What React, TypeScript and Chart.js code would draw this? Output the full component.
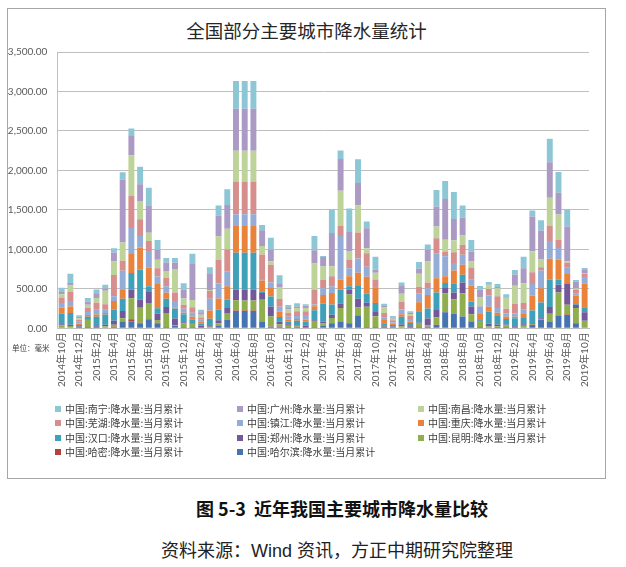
import React, { useEffect, useRef } from "react";
import { Chart, registerables } from "chart.js";

Chart.register(...registerables);

const months = [
  "2014年10月", "2014年11月", "2014年12月",
  "2015年1月", "2015年2月", "2015年3月", "2015年4月", "2015年5月", "2015年6月",
  "2015年7月", "2015年8月", "2015年9月", "2015年10月", "2015年11月", "2015年12月",
  "2016年1月", "2016年2月", "2016年3月", "2016年4月", "2016年5月", "2016年6月",
  "2016年7月", "2016年8月", "2016年9月", "2016年10月", "2016年11月", "2016年12月",
  "2017年1月", "2017年2月", "2017年3月", "2017年4月", "2017年5月", "2017年6月",
  "2017年7月", "2017年8月", "2017年9月", "2017年10月", "2017年11月", "2017年12月",
  "2018年1月", "2018年2月", "2018年3月", "2018年4月", "2018年5月", "2018年6月",
  "2018年7月", "2018年8月", "2018年9月", "2018年10月", "2018年11月", "2018年12月",
  "2019年1月", "2019年2月", "2019年3月", "2019年4月", "2019年5月", "2019年6月",
  "2019年7月", "2019年8月", "2019年9月", "2019年10月",
];

const yTicks = [0, 500, 1000, 1500, 2000, 2500, 3000, 3500];

// bottom-to-top stacking order
const harbin = [10,8,5,5,5,8,15,85,85,64,115,64,5,30,5,5,5,8,30,106,220,220,220,85,20,20,15,5,5,5,30,64,85,64,160,15,3,3,3,10,5,5,20,42,203,182,148,85,5,10,5,5,5,10,42,106,85,161,170,64,10];
const hami = [3,2,2,2,2,2,5,5,30,5,3,5,2,2,2,2,2,2,5,3,5,5,5,3,2,2,2,2,2,2,2,3,3,3,5,3,1,1,1,2,2,2,2,3,5,3,3,3,1,2,2,2,2,2,2,2,3,3,5,3,2];
const kunming = [25,20,10,100,10,15,25,38,267,190,203,35,188,8,55,50,10,10,28,85,127,127,127,275,127,30,15,15,10,85,30,64,170,360,100,255,148,15,8,15,10,60,18,94,237,184,294,90,85,10,20,30,10,20,10,10,97,290,122,190,85];
const zhengzhou = [12,15,5,10,8,20,50,90,106,106,148,85,76,85,15,10,15,20,40,64,140,140,140,85,127,30,20,15,15,10,20,42,55,64,110,50,64,15,10,20,10,5,85,93,64,85,136,97,5,40,20,10,10,20,10,10,85,97,267,40,106];
const hankou = [135,150,20,30,120,130,140,157,212,381,64,64,102,127,100,40,25,80,135,106,466,466,466,20,127,60,30,60,50,127,233,127,178,42,160,118,106,30,20,100,40,145,127,220,64,118,97,64,10,148,110,70,100,80,160,200,347,64,10,10,64];
const chongqing = [75,80,15,20,30,20,110,120,242,275,233,318,76,10,20,40,25,106,140,170,339,339,339,136,106,70,25,20,25,51,106,148,127,127,170,212,190,40,15,30,20,112,170,182,85,161,127,199,85,64,40,30,20,50,190,178,263,254,115,106,297];
const zhenjiang = [60,70,25,40,60,40,60,233,330,148,212,85,85,85,50,50,25,148,190,190,148,148,148,20,72,60,40,40,60,20,85,85,551,100,180,127,10,30,20,60,30,115,85,318,254,93,127,76,85,140,60,40,40,60,148,225,225,148,85,30,85];
const wuhu = [70,120,25,50,90,70,270,127,403,212,127,106,106,106,50,70,30,100,297,275,415,415,415,312,225,100,50,60,50,190,106,127,127,110,330,170,96,60,25,100,40,82,72,190,60,136,127,157,10,85,150,60,120,80,148,42,190,106,55,50,40];
const nanchang = [40,80,20,40,60,170,170,233,517,233,106,106,85,297,80,90,35,12,297,263,390,390,390,106,42,150,40,40,40,330,170,127,445,110,345,63,85,70,20,100,25,165,267,148,150,153,115,76,104,42,100,140,233,250,265,106,360,318,20,10,10];
const guangzhou = [40,30,18,40,60,30,115,795,254,212,339,127,106,85,110,466,30,212,263,301,530,530,530,199,148,48,30,20,28,170,120,420,405,250,280,255,42,20,14,100,14,64,148,254,517,271,225,127,97,10,15,10,140,190,442,360,450,275,440,90,40];
const nanning = [45,115,20,48,45,48,55,93,85,222,230,123,60,55,84,120,34,76,131,199,352,352,352,68,150,102,29,40,20,178,15,297,106,288,300,85,161,28,20,42,20,85,68,208,226,340,157,144,50,37,40,34,60,143,76,131,297,265,221,20,26];

const seriesNames = ["哈尔滨", "哈密", "昆明", "郑州", "汉口", "重庆", "镇江", "芜湖", "南昌", "广州", "南宁"];
const seriesValues = [harbin, hami, kunming, zhengzhou, hankou, chongqing, zhenjiang, wuhu, nanchang, guangzhou, nanning];
const seriesColors = ["#4674B0", "#B5413F", "#8FAF4F", "#73599A", "#3FA0BA", "#E9823A", "#93ACD8", "#D68F8D", "#BDD39A", "#AB9AC4", "#8DC7D6"];

const labelOf = (name: string) => `中国:${name}:降水量:当月累计`;

const legendColX = [55, 237, 418];
const legendRowY = [409, 423, 438, 452];

export default function App() {
  const ref = useRef<HTMLCanvasElement | null>(null);

  useEffect(() => {
    if (!ref.current) return;
    const chart = new Chart(ref.current, {
      type: "bar",
      data: {
        labels: months,
        datasets: seriesNames.map((n, i) => ({
          label: labelOf(n),
          data: seriesValues[i],
          backgroundColor: seriesColors[i],
          borderWidth: 0,
          categoryPercentage: 1,
          barPercentage: 0.68,
        })),
      },
      options: {
        animation: false,
        responsive: false,
        maintainAspectRatio: false,
        layout: { padding: { left: 0, right: 15, top: 43, bottom: 0 } },
        plugins: {
          legend: { display: false },
          title: { display: false },
          tooltip: { enabled: false },
        },
        scales: {
          x: {
            stacked: true,
            grid: { display: false, drawTicks: false },
            border: { display: true, color: "#bfbfbf" },
            ticks: {
              autoSkip: false,
              maxRotation: 90,
              minRotation: 90,
              padding: 4,
              color: "#595959",
              font: { family: "Lato, 'Noto Sans CJK SC', sans-serif", size: 10 },
              callback: (_v: any, i: number) => (i % 2 === 0 ? months[i] : ""),
            },
            afterFit: (s: any) => {
              s.height = 80.7;
            },
          },
          y: {
            stacked: true,
            min: 0,
            max: 3500,
            afterBuildTicks: (s: any) => {
              s.ticks = yTicks.map((v) => ({ value: v }));
            },
            ticks: {
              padding: 10,
              color: "#595959",
              font: { family: "Lato, 'Noto Sans CJK SC', sans-serif", size: 10 },
              callback: (v: any) =>
                Number(v).toLocaleString("en-US", { minimumFractionDigits: 2, maximumFractionDigits: 2 }),
            },
            grid: { color: "#bfbfbf", drawTicks: false },
            border: { display: true, color: "#bfbfbf" },
            afterFit: (s: any) => {
              s.width = 49.3;
            },
          },
        },
      },
    });
    return () => chart.destroy();
  }, []);

  const legendOrder = seriesNames.map((_, i) => i).reverse();

  return (
    <div
      style={{
        position: "absolute",
        left: 0,
        top: 0,
        width: 626,
        height: 567,
        background: "#fff",
        fontFamily: "'Noto Sans CJK SC', sans-serif",
        overflow: "hidden",
      }}
    >
      <div
        style={{
          position: "absolute",
          left: 7,
          top: 8,
          width: 599,
          height: 471,
          boxSizing: "border-box",
          border: "1px solid #a6a6a6",
        }}
      />
      <div
        style={{
          position: "absolute",
          left: 7,
          top: 19,
          width: 599,
          textAlign: "center",
          fontSize: 18.5,
          lineHeight: "22px",
          color: "#262626",
        }}
      >
        全国部分主要城市降水量统计
      </div>
      <canvas
        ref={ref}
        width={596}
        height={400}
        style={{ position: "absolute", left: 8, top: 9, width: 596, height: 400 }}
      />
      <div
        style={{
          position: "absolute",
          left: 12,
          top: 343,
          fontSize: 7.5,
          lineHeight: "10px",
          color: "#404040",
          whiteSpace: "nowrap",
        }}
      >
        单位：毫米
      </div>
      {legendOrder.map((si, k) => (
        <div
          key={si}
          style={{
            position: "absolute",
            left: legendColX[k % 3],
            top: legendRowY[Math.floor(k / 3)] - 7,
            height: 14,
            lineHeight: "14px",
            fontSize: 10,
            color: "#404040",
            whiteSpace: "nowrap",
            display: "flex",
            alignItems: "center",
          }}
        >
          <span
            style={{
              display: "inline-block",
              width: 6,
              height: 6,
              background: seriesColors[si],
              marginRight: 4,
            }}
          />
          {labelOf(seriesNames[si])}
        </div>
      ))}
      <div
        style={{
          position: "absolute",
          left: 92,
          top: 496,
          width: 500,
          textAlign: "center",
          fontSize: 18,
          lineHeight: "24px",
          fontWeight: 700,
          color: "#111",
          whiteSpace: "nowrap",
        }}
      >
        图 5-3&nbsp; 近年我国主要城市降水量比较
      </div>
      <div
        style={{
          position: "absolute",
          left: 87,
          top: 539,
          width: 500,
          textAlign: "center",
          fontSize: 18,
          lineHeight: "24px",
          color: "#222",
          whiteSpace: "nowrap",
          fontFamily: "'Liberation Sans', 'Noto Sans CJK SC', sans-serif",
        }}
      >
        资料来源：Wind 资讯，方正中期研究院整理
      </div>
    </div>
  );
}
